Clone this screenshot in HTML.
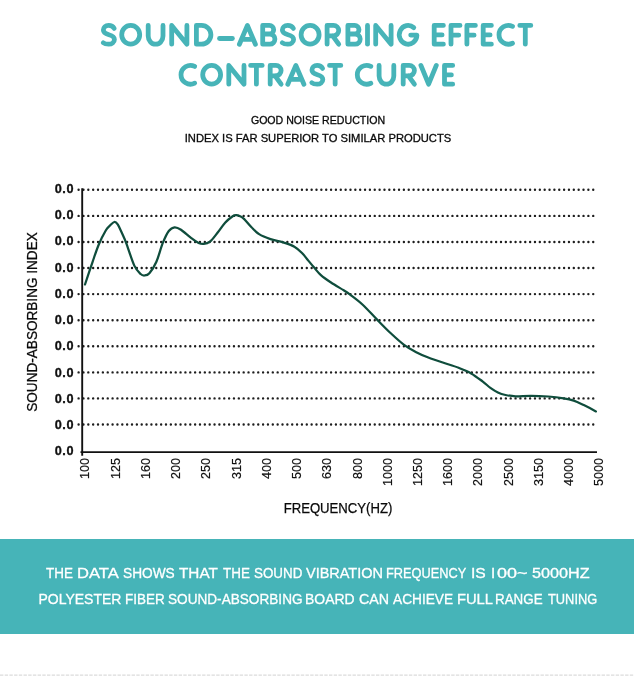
<!DOCTYPE html>
<html><head><meta charset="utf-8">
<style>
html,body{margin:0;padding:0;background:#fff;}
body{width:634px;height:700px;position:relative;overflow:hidden;will-change:transform;font-family:"Liberation Sans",sans-serif;}
.t{position:absolute;left:0;width:634px;text-align:center;white-space:nowrap;}
.sub{color:#0a0a0a;font-size:10.6px;line-height:14px;-webkit-text-stroke:0.3px #0a0a0a;}
.yl{position:absolute;left:38px;width:36px;text-align:right;font-weight:bold;font-size:12.7px;line-height:16px;color:#111;letter-spacing:0.55px;-webkit-text-stroke:0.3px #111;}
.xl{position:absolute;top:458.3px;width:0;height:0;}
.xl span{position:absolute;right:0;top:0;transform-origin:100% 0;transform:rotate(-90deg);white-space:nowrap;font-size:12.6px;line-height:14px;color:#111;-webkit-text-stroke:0.2px #111;}
.band{position:absolute;left:0;top:538.8px;width:634px;height:94.9px;background:#46b4b8;}
.bt{color:#fff;font-size:14px;line-height:16px;-webkit-text-stroke:0.3px #fff;}
.w{position:absolute;white-space:nowrap;transform-origin:0 0;}
</style></head><body>
<h1 class="t" style="margin:0;top:15px;font-size:32px;line-height:40px;color:transparent;font-weight:bold">SOUND–ABSORBING EFFECT<br>CONTRAST CURVE</h1>
<div class="t sub" style="top:113px;left:1px;transform:scaleX(1.0)">GOOD NOISE REDUCTION</div>
<div class="t sub" style="top:131.1px;left:1px;transform:scaleX(1.057)">INDEX IS FAR SUPERIOR TO SIMILAR PRODUCTS</div>
<svg width="634" height="700" style="position:absolute;left:0;top:0">
<g fill="none" stroke="#47b4b8" stroke-width="4.8" stroke-linecap="round" stroke-linejoin="round"><path transform="translate(102.9,25.4)" d="M11.27,3C10.12,1 8.05,0 5.75,0C2.53,0 0.46,1.9 0.46,4.7C0.46,7.6 3.45,8.6 5.98,9.3C9.2,10.2 11.5,11.3 11.5,14C11.5,16.9 8.97,18.8 5.75,18.8C3.68,18.8 1.72,18.5 0.34,17.3"/><path transform="translate(121.7,25.4)" d="M0,9.4A9,9.4 0 1 0 18,9.4A9,9.4 0 1 0 0,9.4Z"/><path transform="translate(148.2,25.4)" d="M0,0V10.66A7.4,8.14 0 0 0 14.8,10.66V0"/><path transform="translate(171.7,25.4)" d="M0,18.8V0L15.2,18.8V0"/><path transform="translate(196.4,25.4)" d="M0,0V18.8H5.1A9.4,9.4 0 0 0 5.1,0Z"/><path transform="translate(219.5,25.4)" d="M0,13.1H12.9"/><path transform="translate(239.4,25.4)" d="M0,18.8L8,0L16,18.8M3.2,13.9H12.8"/><path transform="translate(262.7,25.4)" d="M0,0V18.8M0,0H6.68A4.3,4.3 0 0 1 6.68,8.6H0M6.68,8.6H7.1A5.1,5.1 0 0 1 7.1,18.8H0"/><path transform="translate(281.9,25.4)" d="M11.47,3C10.3,1 8.19,0 5.85,0C2.57,0 0.47,1.9 0.47,4.7C0.47,7.6 3.51,8.6 6.08,9.3C9.36,10.2 11.7,11.3 11.7,14C11.7,16.9 9.13,18.8 5.85,18.8C3.74,18.8 1.75,18.5 0.35,17.3"/><path transform="translate(301.1,25.4)" d="M0,9.4A9,9.4 0 1 0 18,9.4A9,9.4 0 1 0 0,9.4Z"/><path transform="translate(327.1,25.4)" d="M0,18.8V0H6.4A5.2,5.2 0 0 1 6.4,10.4H0M5.6,10.4L11.6,18.8"/><path transform="translate(347.9,25.4)" d="M0,0V18.8M0,0H6.77A4.3,4.3 0 0 1 6.77,8.6H0M6.77,8.6H7.2A5.1,5.1 0 0 1 7.2,18.8H0"/><path transform="translate(367.5,25.4)" d="M0,0V18.8"/><path transform="translate(375.7,25.4)" d="M0,18.8V0L15.4,18.8V0"/><path transform="translate(399.3,25.4)" d="M14.46,2.2A8.8,9.4 0 1 0 17.6,9.7H11.4"/><path transform="translate(434.2,25.4)" d="M9.2,0H0V18.8H9.2M0,9.5H7.9"/><path transform="translate(451,25.4)" d="M9,0H0V18.8M0,9.8H7.7"/><path transform="translate(466.9,25.4)" d="M8.5,0H0V18.8M0,9.8H7.2"/><path transform="translate(483.2,25.4)" d="M8.2,0H0V18.8H8.2M0,9.5H6.9"/><path transform="translate(499,25.4)" d="M13.5,0.94A9.4,9.4 0 1 0 13.5,17.86"/><path transform="translate(519.8,25.4)" d="M0,0H11M5.5,0V18.8"/><path transform="translate(181,65.4)" d="M13.7,1.04A9.4,9.4 0 1 0 13.7,17.76"/><path transform="translate(202.7,65.4)" d="M0,9.4A8.95,9.4 0 1 0 17.9,9.4A8.95,9.4 0 1 0 0,9.4Z"/><path transform="translate(228.8,65.4)" d="M0,18.8V0L15.2,18.8V0"/><path transform="translate(250.6,65.4)" d="M0,0H11.6M5.8,0V18.8"/><path transform="translate(270.2,65.4)" d="M0,18.8V0H5.7A5.2,5.2 0 0 1 5.7,10.4H0M4.9,10.4L10.9,18.8"/><path transform="translate(287.8,65.4)" d="M0,18.8L8.05,0L16.1,18.8M3.22,13.9H12.88"/><path transform="translate(311.5,65.4)" d="M11.07,3C9.94,1 7.91,0 5.65,0C2.49,0 0.45,1.9 0.45,4.7C0.45,7.6 3.39,8.6 5.88,9.3C9.04,10.2 11.3,11.3 11.3,14C11.3,16.9 8.81,18.8 5.65,18.8C3.62,18.8 1.69,18.5 0.34,17.3"/><path transform="translate(329.5,65.4)" d="M0,0H11.3M5.65,0V18.8"/><path transform="translate(357.3,65.4)" d="M13.5,0.94A9.4,9.4 0 1 0 13.5,17.86"/><path transform="translate(379.1,65.4)" d="M0,0V10.71A7.35,8.09 0 0 0 14.7,10.71V0"/><path transform="translate(403.2,65.4)" d="M0,18.8V0H6A5.2,5.2 0 0 1 6,10.4H0M5.2,10.4L11.2,18.8"/><path transform="translate(420.9,65.4)" d="M0,0L7.7,18.8L15.4,0"/><path transform="translate(444.5,65.4)" d="M8.2,0H0V18.8H8.2M0,9.5H6.9"/></g>
<g stroke="#1e1e1e" stroke-width="2.4" stroke-linecap="round" stroke-dasharray="0 4.855"><line x1="78.6" y1="189.8" x2="594" y2="189.8"/><line x1="78.6" y1="215.9" x2="594" y2="215.9"/><line x1="78.6" y1="242.0" x2="594" y2="242.0"/><line x1="78.6" y1="268.0" x2="594" y2="268.0"/><line x1="78.6" y1="294.1" x2="594" y2="294.1"/><line x1="78.6" y1="320.2" x2="594" y2="320.2"/><line x1="78.6" y1="346.3" x2="594" y2="346.3"/><line x1="78.6" y1="372.4" x2="594" y2="372.4"/><line x1="78.6" y1="398.4" x2="594" y2="398.4"/><line x1="78.6" y1="424.5" x2="594" y2="424.5"/></g>
<line x1="82.2" y1="188.2" x2="82.2" y2="455.8" stroke="#111" stroke-width="1.9"/>
<line x1="80.5" y1="452.1" x2="597" y2="452.1" stroke="#111" stroke-width="1.9"/>
<path d="M85.0 284.5 C86.3 280.7 90.3 268.5 92.6 261.8 C94.9 255.1 96.7 249.4 98.9 244.2 C101.1 238.9 104.1 233.4 105.9 230.3 C107.7 227.2 108.4 227.1 109.8 225.7 C111.2 224.3 112.9 222.2 114.2 222.0 C115.5 221.8 116.3 222.3 117.7 224.4 C119.1 226.5 121.1 231.4 122.6 234.6 C124.1 237.8 124.5 238.6 126.5 243.8 C128.4 249.0 132.0 260.6 134.3 265.6 C136.7 270.6 138.9 272.4 140.6 274.0 C142.3 275.6 142.9 275.6 144.4 275.5 C145.9 275.4 147.4 275.5 149.4 273.2 C151.4 270.9 154.2 266.9 156.4 261.8 C158.6 256.8 160.7 248.0 162.8 242.9 C164.9 237.8 166.8 233.6 168.8 231.0 C170.8 228.4 172.6 227.5 174.6 227.3 C176.6 227.1 178.3 228.0 181.0 229.8 C183.7 231.6 188.1 235.7 191.0 237.9 C193.9 240.1 196.5 241.9 198.6 242.9 C200.7 243.9 201.8 244.1 203.7 243.9 C205.6 243.7 207.7 243.4 210.0 241.6 C212.3 239.8 215.0 236.0 217.5 232.8 C220.0 229.7 222.6 225.5 225.1 222.7 C227.6 219.9 230.8 217.5 232.7 216.2 C234.6 214.9 235.2 215.1 236.4 215.1 C237.6 215.1 238.7 215.6 240.0 216.2 C241.3 216.8 242.1 217.1 244.0 218.9 C245.9 220.8 249.0 224.8 251.5 227.3 C254.0 229.8 255.9 232.1 259.1 234.1 C262.3 236.1 266.5 237.7 270.5 239.1 C274.5 240.5 279.1 241.1 283.1 242.4 C287.1 243.7 291.2 244.9 294.4 246.7 C297.5 248.5 299.7 250.7 302.0 253.0 C304.3 255.3 306.2 258.1 308.3 260.6 C310.4 263.1 312.5 265.7 314.6 268.1 C316.7 270.5 318.2 272.8 320.9 275.2 C323.6 277.6 327.2 280.0 331.0 282.5 C334.8 285.0 340.5 288.3 343.7 290.3 C346.9 292.3 346.9 292.2 350.1 294.6 C353.3 297.0 358.3 300.6 362.7 304.7 C367.1 308.8 372.0 314.4 376.6 319.1 C381.2 323.8 385.9 328.7 390.5 333.0 C395.1 337.3 400.2 342.0 404.4 345.1 C408.6 348.2 411.7 349.8 415.7 351.9 C419.7 354.0 423.7 355.7 428.3 357.5 C432.9 359.3 438.4 361.1 443.5 362.8 C448.6 364.5 454.0 366.0 458.6 367.8 C463.2 369.6 467.2 371.1 471.2 373.4 C475.2 375.7 479.6 379.2 482.8 381.6 C486.0 384.0 487.9 386.1 490.4 387.9 C492.9 389.7 495.4 391.3 497.9 392.5 C500.4 393.7 502.6 394.4 505.5 395.0 C508.4 395.6 511.4 396.2 515.6 396.3 C519.8 396.4 525.3 395.8 530.8 395.8 C536.3 395.8 542.9 396.1 548.4 396.5 C553.9 396.9 559.4 397.6 563.6 398.3 C567.8 399.0 570.3 399.5 573.7 400.6 C577.1 401.7 580.1 403.3 583.8 405.1 C587.5 406.9 593.9 410.3 595.9 411.4" fill="none" stroke="#0f4d3c" stroke-width="2.25" stroke-linecap="round" stroke-linejoin="round"/>
<line x1="0" y1="675.1" x2="634" y2="675.1" stroke="#d2d2d2" stroke-width="1" stroke-dasharray="3.4 1.3"/>
</svg>
<div class="yl" style="top:180.9px">0.0</div><div class="yl" style="top:207.1px">0.0</div><div class="yl" style="top:233.4px">0.0</div><div class="yl" style="top:259.6px">0.0</div><div class="yl" style="top:285.8px">0.0</div><div class="yl" style="top:312.1px">0.0</div><div class="yl" style="top:338.3px">0.0</div><div class="yl" style="top:364.5px">0.0</div><div class="yl" style="top:390.7px">0.0</div><div class="yl" style="top:417.0px">0.0</div><div class="yl" style="top:443.2px">0.0</div>
<div class="xl" style="left:78.4px"><span>100</span></div><div class="xl" style="left:108.6px"><span>125</span></div><div class="xl" style="left:138.9px"><span>160</span></div><div class="xl" style="left:169.1px"><span>200</span></div><div class="xl" style="left:199.4px"><span>250</span></div><div class="xl" style="left:229.6px"><span>315</span></div><div class="xl" style="left:259.8px"><span>400</span></div><div class="xl" style="left:290.1px"><span>500</span></div><div class="xl" style="left:320.3px"><span>630</span></div><div class="xl" style="left:350.6px"><span>800</span></div><div class="xl" style="left:380.8px"><span>1000</span></div><div class="xl" style="left:411.0px"><span>1250</span></div><div class="xl" style="left:441.3px"><span>1600</span></div><div class="xl" style="left:471.5px"><span>2000</span></div><div class="xl" style="left:501.8px"><span>2500</span></div><div class="xl" style="left:532.0px"><span>3150</span></div><div class="xl" style="left:562.2px"><span>4000</span></div><div class="xl" style="left:592.5px"><span>5000</span></div>
<div class="t" style="top:499.8px;left:21px;font-size:14px;line-height:16px;color:#0a0a0a;-webkit-text-stroke:0.25px #0a0a0a;transform:scaleX(0.938)">FREQUENCY(HZ)</div>
<div class="t" style="top:313.6px;left:-100.1px;width:264px;font-size:14.6px;line-height:16px;color:#0a0a0a;-webkit-text-stroke:0.25px #0a0a0a;transform:rotate(-90deg) scaleX(0.93);" id="yt">SOUND-ABSORBING INDEX</div>
<div class="band"></div>
<span class="w bt" style="left:46.00px;top:565.0px;transform:scaleX(0.9600)">THE</span><span class="w bt" style="left:76.54px;top:565.0px;transform:scaleX(1.1822)">DATA</span><span class="w bt" style="left:122.68px;top:565.0px;transform:scaleX(0.9784)">SHOWS</span><span class="w bt" style="left:178.96px;top:565.0px;transform:scaleX(1.0923)">THAT</span><span class="w bt" style="left:223.20px;top:565.0px;transform:scaleX(0.9600)">THE</span><span class="w bt" style="left:253.89px;top:565.0px;transform:scaleX(0.9562)">SOUND</span><span class="w bt" style="left:306.24px;top:565.0px;transform:scaleX(1.0339)">VIBRATION</span><span class="w bt" style="left:386.05px;top:565.0px;transform:scaleX(0.9127)">FREQUENCY</span><span class="w bt" style="left:471.36px;top:565.0px;transform:scaleX(1.1151)">IS</span><span class="w bt" style="left:491.32px;top:565.0px;transform:scaleX(1.0714)">I</span><span class="w bt" style="left:497.30px;top:565.0px;transform:scaleX(1.2847)">00~</span><span class="w bt" style="left:532.25px;top:565.0px;transform:scaleX(1.1574)">5000HZ</span><span class="w bt" style="left:38.45px;top:590.5px;transform:scaleX(1.0000)">POLYESTER</span><span class="w bt" style="left:124.70px;top:590.5px;transform:scaleX(0.9610)">FIBER</span><span class="w bt" style="left:168.08px;top:590.5px;transform:scaleX(0.9716)">SOUND-ABSORBING</span><span class="w bt" style="left:305.36px;top:590.5px;transform:scaleX(0.9963)">BOARD</span><span class="w bt" style="left:359.38px;top:590.5px;transform:scaleX(1.0177)">CAN</span><span class="w bt" style="left:393.37px;top:590.5px;transform:scaleX(0.9780)">ACHIEVE</span><span class="w bt" style="left:456.99px;top:590.5px;transform:scaleX(1.0515)">FULL</span><span class="w bt" style="left:495.20px;top:590.5px;transform:scaleX(0.9553)">RANGE</span><span class="w bt" style="left:547.71px;top:590.5px;transform:scaleX(0.9176)">TUNING</span>

</body></html>
